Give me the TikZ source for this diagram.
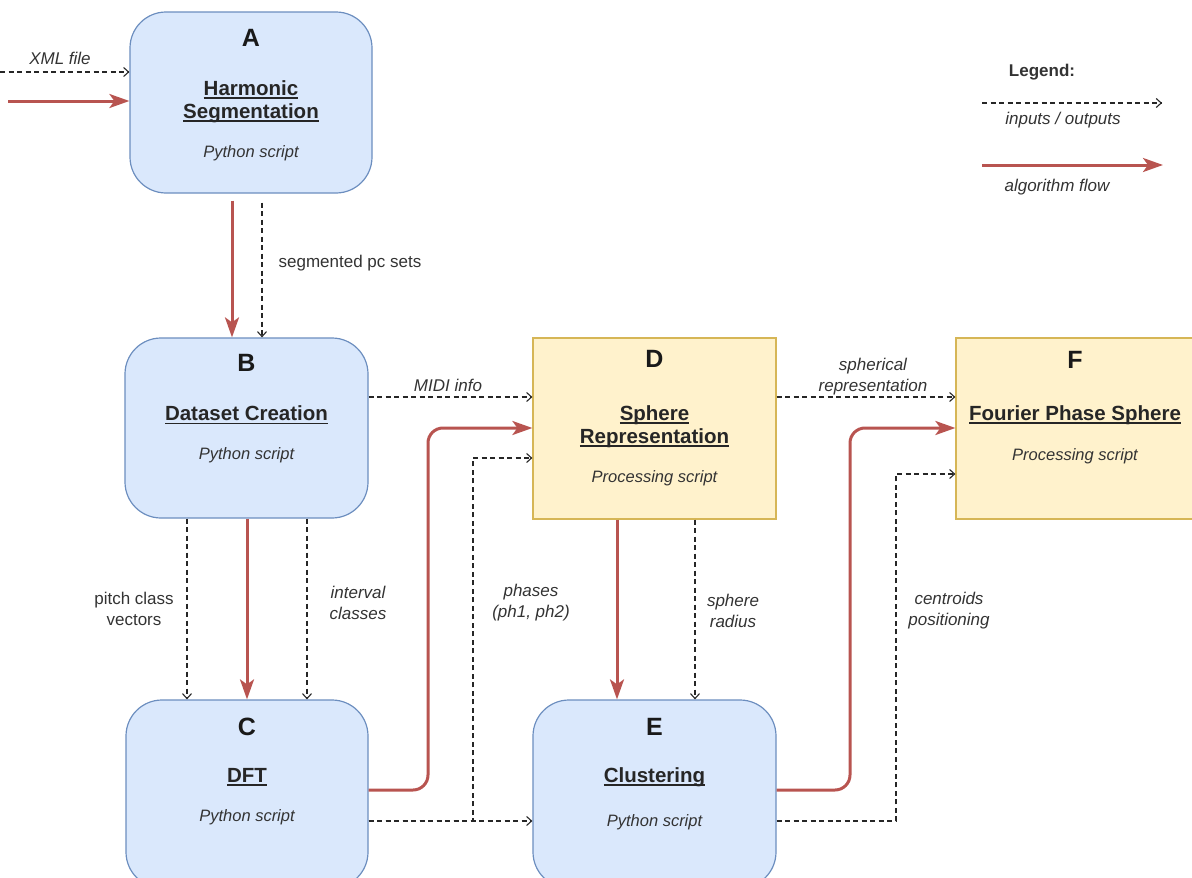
\documentclass[tikz,border=0pt]{standalone}
\usepackage{fontspec}
\setmainfont{Liberation Sans}
\usetikzlibrary{arrows.meta}
\definecolor{bfill}{HTML}{DAE8FC}
\definecolor{bdraw}{HTML}{6C8EBF}
\definecolor{yfill}{HTML}{FFF2CC}
\definecolor{ydraw}{HTML}{D6B656}
\definecolor{flowred}{HTML}{B85450}
\definecolor{txt}{HTML}{333333}
\newcommand{\tul}[1]{\begingroup\setbox0=\hbox{#1}\leavevmode\rlap{\rule[-3.6pt]{\wd0}{1.6pt}}\box0\endgroup}
\begin{document}
\begin{tikzpicture}[x=1pt,y=-1pt,
 bluebox/.style={draw=bdraw, fill=bfill, line width=1.2pt, rounded corners=36pt, inner sep=0pt},
 yellowbox/.style={draw=ydraw, fill=yfill, line width=1.2pt, inner sep=0pt},
 letterlbl/.style={font=\fontsize{25}{28}\selectfont\bfseries, text=black!90, inner sep=0pt},
 boxtitle/.style={font=\fontsize{20.5}{23}\selectfont\bfseries, align=center, text=black!85, inner sep=0pt},
 scriptlbl/.style={font=\fontsize{16.5}{20}\selectfont\itshape, text=txt, inner sep=0pt},
 lbl/.style={font=\fontsize{17}{21}\selectfont, align=center, text=txt, inner sep=0pt},
 ilbl/.style={font=\fontsize{17}{21}\selectfont\itshape, align=center, text=txt, inner sep=0pt},
 io/.style={draw=black!85, line width=1.1pt, dash pattern=on 5pt off 3.5pt, -{Straight Barb[length=5pt,width=9pt]}},
 flow/.style={draw=flowred, line width=3pt, rounded corners=15pt, -{Stealth[length=20pt,width=14pt,inset=5pt]}},
]
\useasboundingbox (0,0) rectangle (1192,878);

% boxes
\node[bluebox, minimum width=242pt, minimum height=181pt] (A) at (251,102.5) {};
\node[bluebox, minimum width=243pt, minimum height=180pt] (B) at (246.5,428) {};
\node[bluebox, minimum width=242pt, minimum height=188pt] (C) at (247,794) {};
\node[yellowbox, minimum width=243pt, minimum height=181pt] (D) at (654.5,428.5) {};
\node[bluebox, minimum width=243pt, minimum height=188pt] (E) at (654.5,794) {};
\node[yellowbox, minimum width=238pt, minimum height=181pt] (F) at (1075,428.5) {};

% box texts
\node[letterlbl] (Al) at (251,38) {A};
\node[boxtitle] (At) at (251,101.5) {\tul{Harmonic}\\\tul{Segmentation}};
\node[scriptlbl] (As) at (251,153) {Python script};

\node[letterlbl] (Bl) at (246.5,363) {B};
\node[boxtitle] (Bt) at (246.5,415) {\tul{Dataset Creation}};
\node[scriptlbl] (Bs) at (246.5,455) {Python script};

\node[letterlbl] (Cl) at (247,727) {C};
\node[boxtitle] (Ct) at (247,777) {\tul{DFT}};
\node[scriptlbl] (Cs) at (247,817) {Python script};

\node[letterlbl] (Dl) at (654.5,359) {D};
\node[boxtitle] (Dt) at (654.5,426.5) {\tul{Sphere}\\\tul{Representation}};
\node[scriptlbl] (Ds) at (654.5,478) {Processing script};

\node[letterlbl] (El) at (654.5,727) {E};
\node[boxtitle] (Et) at (654.5,777) {\tul{Clustering}};
\node[scriptlbl] (Es) at (654.5,822) {Python script};

\node[letterlbl] (Fl) at (1075,360) {F};
\node[boxtitle] (Ft) at (1075,415) {\tul{Fourier Phase Sphere}};
\node[scriptlbl] (Fs) at (1075,456) {Processing script};

% free ends and bends
\coordinate (xmlin) at (0,72);
\coordinate (flowin) at (8,101);
\coordinate (ab1) at (232,0);
\coordinate (ab2) at (262,0);
\coordinate (bc1) at (187,0);
\coordinate (bc2) at (247,0);
\coordinate (bc3) at (307,0);
\coordinate (de1) at (617,0);
\coordinate (de2) at (695,0);
\coordinate (y397) at (0,397);
\coordinate (y428) at (0,428);
\coordinate (y458) at (0,458);
\coordinate (y474) at (0,474);
\coordinate (y790) at (0,790);
\coordinate (y821) at (0,821);

% inputs
\draw[io] (xmlin) -- (xmlin -| A.west);
\draw[flow] (flowin) -- (flowin -| A.west);
\node[ilbl] (xmll) at (60,58) {XML file};

% A -> B
\draw[flow, shorten <=7pt] (A.south -| ab1) -- (B.north -| ab1);
\draw[io, shorten <=9pt] (A.south -| ab2) -- (B.north -| ab2);
\node[lbl] (segl) at (350,263) {segmented pc sets};

% B -> C
\draw[io] (B.south -| bc1) -- (C.north -| bc1);
\draw[flow] (B.south -| bc2) -- (C.north -| bc2);
\draw[io] (B.south -| bc3) -- (C.north -| bc3);
\node[lbl] (pcvl) at (134,608.5) {pitch class\\vectors};
\node[ilbl] (icl) at (358,603) {interval\\classes};

% B -> D
\draw[io] (B.east |- y397) -- (D.west |- y397);
\node[ilbl] (midil) at (448,385) {MIDI info};

% C -> D, C -> E
\draw[flow] (C.east |- y790) -- (428,790) -- (428,428) -- (D.west |- y428);
\draw[io] (C.east |- y821) -- (473,821) -- (473,458) -- (D.west |- y458);
\draw[io] (C.east |- y821) -- (E.west |- y821);
\node[ilbl] (phl) at (531,603) {phases\\(ph1, ph2)};

% D -> E
\draw[flow] (D.south -| de1) -- (E.north -| de1);
\draw[io] (D.south -| de2) -- (E.north -| de2);
\node[ilbl] (srl) at (733,610.5) {sphere\\radius};

% D -> F
\draw[io] (D.east |- y397) -- (F.west |- y397);
\node[ilbl] (sphl) at (873,377) {spherical\\representation};

% E -> F
\draw[flow] (E.east |- y790) -- (850,790) -- (850,428) -- (F.west |- y428);
\draw[io] (E.east |- y821) -- (896,821) -- (896,474) -- (F.west |- y474);
\node[ilbl] (cpl) at (949,610.5) {centroids\\positioning};

% legend
\node[font=\fontsize{17}{21}\selectfont\bfseries, text=txt, inner sep=0pt] (legt) at (1042,72) {Legend:};
\coordinate (lg1s) at (982,103);
\coordinate (lg1e) at (1162,103);
\coordinate (lg2s) at (982,165);
\coordinate (lg2e) at (1163,165);
\draw[io] (lg1s) -- (lg1e);
\node[ilbl] (lgio) at (1063,120) {inputs / outputs};
\draw[flow] (lg2s) -- (lg2e);
\node[ilbl] (lgfl) at (1057,187) {algorithm flow};
\end{tikzpicture}
\end{document}
